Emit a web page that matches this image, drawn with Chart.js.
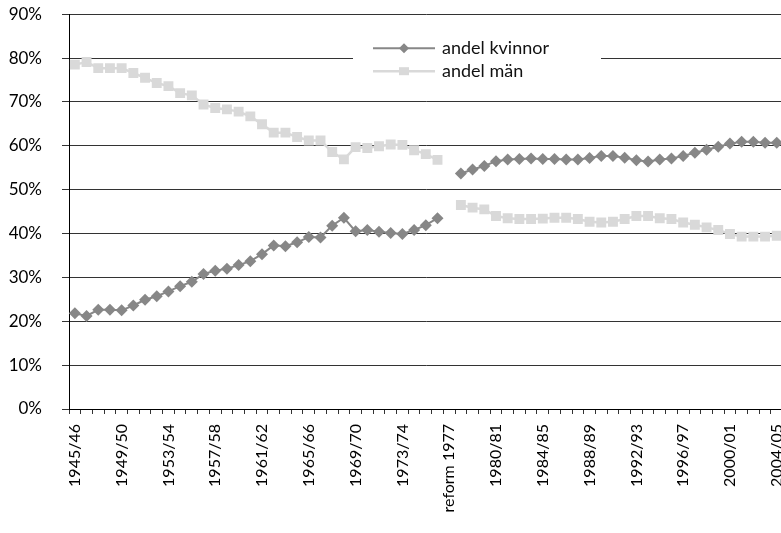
<!DOCTYPE html>
<html>
<head>
<meta charset="utf-8">
<title>Andel kvinnor och män</title>
<script src="https://cdn.jsdelivr.net/npm/chart.js@4.4.0/dist/chart.umd.min.js"></script>
<style>
  html, body { margin: 0; padding: 0; background: #fff; overflow: hidden; }
  #wrap { width: 806px; height: 549px; margin-top: -16px; }
</style>
</head>
<body>
<div id="wrap"><canvas id="chart"></canvas></div>
<script>
// läsår, med ett tomt fält för reformen 1977
const years = [
  "1945/46", "1946/47", "1947/48", "1948/49", "1949/50", "1950/51", "1951/52", "1952/53",
  "1953/54", "1954/55", "1955/56", "1956/57", "1957/58", "1958/59", "1959/60", "1960/61",
  "1961/62", "1962/63", "1963/64", "1964/65", "1965/66", "1966/67", "1967/68", "1968/69",
  "1969/70", "1970/71", "1971/72", "1972/73", "1973/74", "1974/75", "1975/76", "1976/77",
  "reform 1977",
  "1977/78", "1978/79", "1979/80", "1980/81", "1981/82", "1982/83", "1983/84", "1984/85",
  "1985/86", "1986/87", "1987/88", "1988/89", "1989/90", "1990/91", "1991/92", "1992/93",
  "1993/94", "1994/95", "1995/96", "1996/97", "1997/98", "1998/99", "1999/00", "2000/01",
  "2001/02", "2002/03", "2003/04", "2004/05"
];

// andel i procent
const kvinnor = [
  21.8, 21.2, 22.6, 22.6, 22.5, 23.6, 24.9, 25.7, 26.8, 28.0, 29.0, 30.8, 31.5, 32.0, 32.8, 33.7,
  35.3, 37.3, 37.1, 38.0, 39.2, 39.1, 41.8, 43.6, 40.5, 40.8, 40.4, 40.1, 39.9, 40.8, 41.9, 43.5,
  null,
  53.7, 54.6, 55.4, 56.5, 56.9, 57.0, 57.1, 57.0, 57.0, 56.9, 56.9, 57.2, 57.7, 57.7, 57.3, 56.7,
  56.4, 56.9, 57.1, 57.7, 58.4, 59.1, 59.8, 60.5, 60.9, 60.9, 60.7, 60.7
];
const man = [
  78.5, 79.1, 77.7, 77.7, 77.7, 76.6, 75.5, 74.3, 73.6, 72.0, 71.5, 69.4, 68.6, 68.3, 67.8, 66.7,
  64.9, 63.0, 63.0, 62.0, 61.2, 61.2, 58.6, 56.9, 59.7, 59.5, 59.9, 60.3, 60.2, 59.0, 58.1, 56.8,
  null,
  46.5, 45.9, 45.5, 44.0, 43.5, 43.3, 43.3, 43.4, 43.6, 43.6, 43.3, 42.7, 42.5, 42.7, 43.3, 44.0,
  44.0, 43.5, 43.3, 42.5, 42.0, 41.4, 40.8, 39.9, 39.3, 39.3, 39.3, 39.5
];

const FONT = "Lato, 'Open Sans', sans-serif";
const gridColor = "#333";

// egen förklaring med vit bakgrund, ritad ovanpå rutnätet
const boxLegend = {
  id: "boxLegend",
  afterDatasetsDraw(chart) {
    const ctx = chart.ctx;
    const area = chart.chartArea;
    const x0 = area.left + 284, y0 = area.top + 14;
    ctx.save();
    ctx.fillStyle = "#fff";
    ctx.fillRect(x0, y0, 248, 60);
    chart.data.datasets.forEach((ds, i) => {
      const y = y0 + 20 + i * 23;
      const lx = x0 + 20, mx = x0 + 51, tx = x0 + 89;
      ctx.strokeStyle = ds.borderColor;
      ctx.lineWidth = ds.borderWidth;
      ctx.beginPath();
      ctx.moveTo(lx, y);
      ctx.lineTo(tx - 7, y);
      ctx.stroke();
      ctx.fillStyle = ds.backgroundColor;
      ctx.beginPath();
      if (ds.pointStyle === "rectRot") {
        const r = 5;
        ctx.moveTo(mx - r, y); ctx.lineTo(mx, y - r);
        ctx.lineTo(mx + r, y); ctx.lineTo(mx, y + r);
      } else {
        ctx.rect(mx - 5, y - 4, 10, 8);
      }
      ctx.closePath();
      ctx.fill();
      ctx.fillStyle = "#111";
      ctx.font = "18px " + FONT;
      ctx.textBaseline = "middle";
      ctx.fillText(ds.label, tx, y);
    });
    ctx.restore();
  }
};

new Chart(document.getElementById("chart"), {
  type: "line",
  data: {
    labels: years,
    datasets: [
      {
        label: "andel kvinnor",
        data: kvinnor,
        borderColor: "#878787",
        backgroundColor: "#878787",
        borderWidth: 2,
        pointStyle: "rectRot",
        pointRadius: 6,
        pointBorderWidth: 0,
        tension: 0
      },
      {
        label: "andel män",
        data: man,
        borderColor: "#d9d9d9",
        backgroundColor: "#d9d9d9",
        borderWidth: 2.5,
        pointStyle: "rect",
        pointRadius: 7,
        pointBorderWidth: 0,
        tension: 0
      }
    ]
  },
  options: {
    responsive: true,
    maintainAspectRatio: false,
    animation: false,
    layout: { padding: { top: 0, left: 0, right: 0, bottom: 0 } },
    plugins: {
      legend: { display: false },
      tooltip: { enabled: false }
    },
    scales: {
      x: {
        offset: true,
        grid: { offset: true, drawOnChartArea: false, drawTicks: true, tickLength: 5, color: gridColor },
        border: { color: "#000", width: 1 },
        ticks: {
          autoSkip: false,
          maxRotation: 90,
          minRotation: 90,
          padding: 10,
          color: "#000",
          font: { family: FONT, size: 16 },
          callback: (v, i) => (i % 4 === 0 ? years[i] : "")
        },
        afterFit: (s) => { s.height = 124; }
      },
      y: {
        min: 0,
        max: 90,
        ticks: {
          stepSize: 10,
          padding: 20,
          color: "#000",
          font: { family: FONT, size: 17 },
          callback: (v) => v + "%"
        },
        grid: { color: gridColor, tickLength: 7 },
        border: { color: "#000", width: 1 },
        afterFit: (s) => { s.width = 69; }
      }
    }
  },
  plugins: [boxLegend]
});
</script>
</body>
</html>
